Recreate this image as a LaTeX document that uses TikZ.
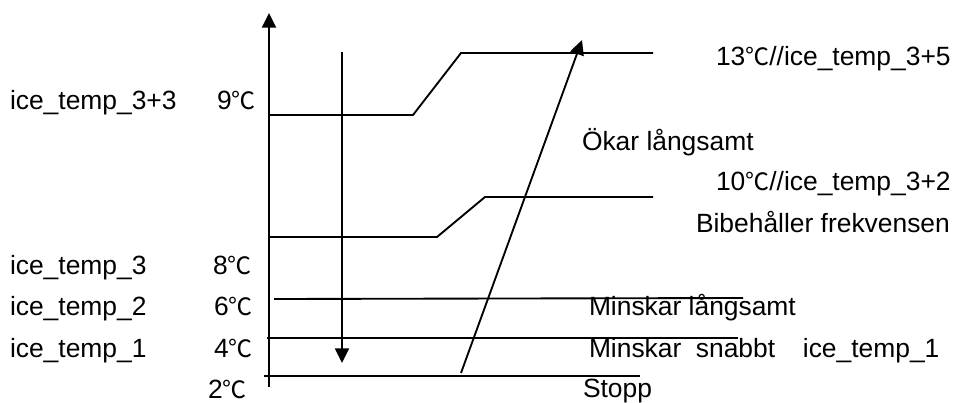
\documentclass[tikz,border=0pt]{standalone}
\usepackage{fontspec}
\setmainfont{Liberation Sans}
\newfontfamily\cjk{Noto Sans CJK SC}
\usetikzlibrary{arrows.meta}
\newcommand{\degC}{{\cjk\fontsize{18}{20}\selectfont ℃}}
\tikzset{
  ln/.style={line width=1.4pt},
  arr/.style={line width=1.4pt,-{Triangle[length=11pt,width=10.5pt]}},
  lbl/.style={anchor=base west,inner sep=0pt,outer sep=0pt,font=\fontsize{19.8}{22}\selectfont},
}
\begin{document}
\begin{tikzpicture}[x=0.75pt,y=-0.75pt]
\useasboundingbox (0,0) rectangle (953,403);
% coordinates
\coordinate (axB) at (269,387);
\coordinate (axT) at (269,13);
\coordinate (dnT) at (342,52);
\coordinate (dnB) at (342,363);
\coordinate (upB) at (461,373);
\coordinate (upT) at (582,40);
% axis
\draw[arr] (axB) -- (axT);
% decreasing arrow
\draw[arr] (dnT) -- (dnB);
% upper threshold line
\coordinate (a1) at (269,115);
\coordinate (a2) at (413,115);
\coordinate (a3) at (461,53);
\coordinate (a4) at (653,53);
\draw[ln] (a1) -- (a2) -- (a3) -- (a4);
% lower threshold line
\coordinate (b1) at (269,237);
\coordinate (b2) at (437,237);
\coordinate (b3) at (485,197);
\coordinate (b4) at (653,197);
\draw[ln] (b1) -- (b2) -- (b3) -- (b4);
% 6, 4, 2 lines
\coordinate (c1) at (274,299);
\coordinate (c2) at (743,298);
\draw[ln] (c1) -- (c2);
\coordinate (d1) at (267,338);
\coordinate (d2) at (738,338);
\draw[ln] (d1) -- (d2);
\coordinate (e1) at (264,376);
\coordinate (e2) at (640,376);
\draw[ln] (e1) -- (e2);
% increasing arrow
\draw[arr] (upB) -- (upT);
% left labels
\node[lbl] (l1) at (10,109) {ice\_temp\_3+3};
\node[lbl] (t1) at (217,109) {9\degC};
\node[lbl] (l2) at (10,274) {ice\_temp\_3};
\node[lbl] (t2) at (213,274) {8\degC};
\node[lbl] (l3) at (10,315) {ice\_temp\_2};
\node[lbl] (t3) at (214,315) {6\degC};
\node[lbl] (l4) at (10,357) {ice\_temp\_1};
\node[lbl] (t4) at (214,357) {4\degC};
\node[lbl] (t5) at (208,398) {2\degC};
% right labels
\node[lbl] (r1) at (716,66) {13\degC//ice\_temp\_3+5};
\node[lbl] (r2) at (582,150) {Ökar långsamt};
\node[lbl] (r3) at (716,190) {10\degC//ice\_temp\_3+2};
\node[lbl] (r4) at (696,232) {Bibehåller frekvensen};
\node[lbl] (r5) at (589,315) {Minskar långsamt};
\node[lbl] (r6) at (589,357) {Minskar\hspace{0.55em}snabbt\hspace{1.05em}ice\_temp\_1};
\node[lbl] (r7) at (583,397) {Stopp};
\end{tikzpicture}
\end{document}
